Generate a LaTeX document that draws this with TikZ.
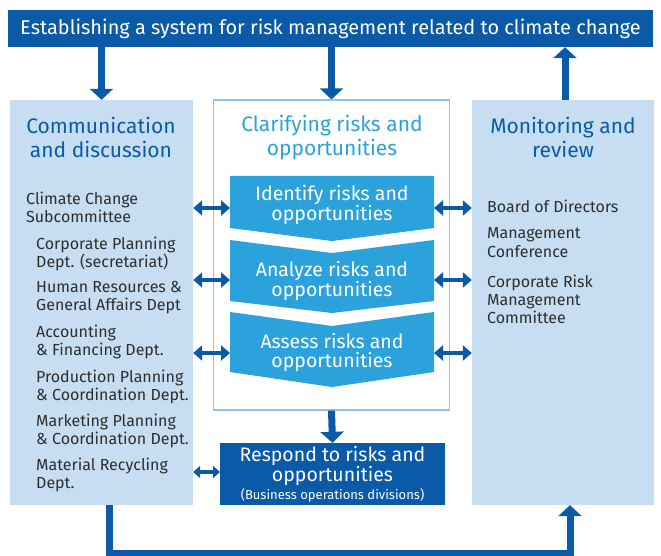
\documentclass[tikz,border=0pt]{standalone}
\usepackage{fontspec}
\setmainfont{Fira Sans}
\usetikzlibrary{arrows.meta,positioning}
\definecolor{deepblue}{HTML}{0A5AA8}
\definecolor{paleblue}{HTML}{C6DDF2}
\definecolor{midblue}{HTML}{2CA2DC}
\definecolor{edgeblue}{HTML}{8FC3EA}
\definecolor{inktext}{HTML}{2E2E2E}

\begin{document}
\begin{tikzpicture}[x=1pt,y=-1pt,
    panel/.style={fill=paleblue, inner sep=0pt},
    flow/.style={draw=deepblue, line width=7pt, -{Triangle[length=11pt,width=23pt]}},
    link/.style={draw=deepblue, line width=4.5pt, {Triangle[length=9pt,width=15pt]}-{Triangle[length=9pt,width=15pt]}},
    shortlink/.style={draw=deepblue, line width=4pt, {Triangle[length=7pt,width=12pt]}-{Triangle[length=7pt,width=12pt]}},
    heading/.style={font=\fontsize{21}{24}\selectfont, align=center},
    steptext/.style={text=white, font=\fontsize{19.5}{19}\selectfont, align=center},
    item/.style={text=inktext, font=\fontsize{16}{18.3}\selectfont, align=left, anchor=north west, inner sep=0pt},
    chevron/.style={fill=midblue},
]
\useasboundingbox (0,0) rectangle (661,556);

% top banner
\node[fill=deepblue, text=white, minimum width=645pt, minimum height=37pt,
      font=\fontsize{19.9}{23}\selectfont] (banner) at (330.5,28.5)
      {Establishing a system for risk management related to climate change};

% three columns
\node[panel, minimum width=183pt, minimum height=405pt] (left) at (101.5,302.5) {};
\node[draw=edgeblue, line width=1.2pt, fill=white, minimum width=236pt, minimum height=310pt] (mid) at (331.5,255) {};
\node[panel, minimum width=182pt, minimum height=405pt] (right) at (563,302.5) {};

\node[heading, text=deepblue] (lefttitle) at (101,137) {Communication\\and discussion};
\node[heading, text=midblue] (midtitle) at (332,137.5) {Clarifying risks and\\opportunities};
\node[heading, text=deepblue] (righttitle) at (563,137) {Monitoring and\\review};

% chevrons
\fill[chevron] (230,176) -- (434,176) -- (434,228) -- (332,241) -- (230,228) -- cycle;
\fill[chevron] (230,240) -- (332,253) -- (434,240) -- (434,301) -- (332,313) -- (230,301) -- cycle;
\fill[chevron] (230,312) -- (332,326) -- (434,312) -- (434,372) -- (332,387) -- (230,372) -- cycle;
\node[steptext] (identify) at (332,205) {Identify risks and\\opportunities};
\node[steptext] (analyze) at (332,281) {Analyze risks and\\opportunities};
\node[steptext] (assess) at (332,352) {Assess risks and\\opportunities};

% respond box
\node[fill=deepblue, minimum width=225pt, minimum height=62pt] (respond) at (332.5,474) {};
\node[steptext] (respondtext) at (332.5,466) {Respond to risks and\\opportunities};
\node[text=white, font=\fontsize{13}{15}\selectfont] (respondnote) at (332.5,495) {(Business operations divisions)};

% left list
\node[item] (sub) at (26,192) {Climate Change\\Subcommittee};
\node[item] (corp) at (36,237) {Corporate Planning\\Dept. (secretariat)};
\node[item] (hr) at (36,281) {Human Resources \&\\General Affairs Dept};
\node[item] (acct) at (36,325) {Accounting\\\& Financing Dept.};
\node[item] (prod) at (36,370) {Production Planning\\\& Coordination Dept.};
\node[item] (mkt) at (36,414) {Marketing Planning\\\& Coordination Dept.};
\node[item] (recyc) at (36,458) {Material Recycling\\Dept.};

% right list
\node[item] (board) at (487,199.5) {Board of Directors};
\node[item] (mgmt) at (487,227.5) {Management\\Conference};
\node[item] (risk) at (487,274.5) {Corporate Risk\\Management\\Committee};

% connector points
\coordinate (c1w) at (230,208);
\coordinate (c2w) at (230,280);
\coordinate (c3w) at (230,353);
\coordinate (c1e) at (434,208);
\coordinate (c2e) at (434,280);
\coordinate (c3e) at (434,353);
\coordinate (rw) at (220,472);
\coordinate (loopL) at (109,553);
\coordinate (loopR) at (570,553);

% arrows
\draw[flow] (left.north |- banner.south) -- (left.north);
\draw[flow] (mid.north |- banner.south) -- (mid.north);
\draw[flow] (right.north -| 565,0) -- (banner.south -| 565,0);
\draw[flow] (mid.south) -- (respond.north);
\foreach \p in {c1w,c2w,c3w}
    \draw[link] (left.east |- \p) -- (\p);
\foreach \p in {c1e,c2e,c3e}
    \draw[link] (\p) -- (right.west |- \p);
\draw[shortlink] (left.east |- rw) -- (rw);
\draw[flow] (left.south -| loopL) -- (loopL) -- (loopR) -- (right.south -| loopR);
\end{tikzpicture}
\end{document}
